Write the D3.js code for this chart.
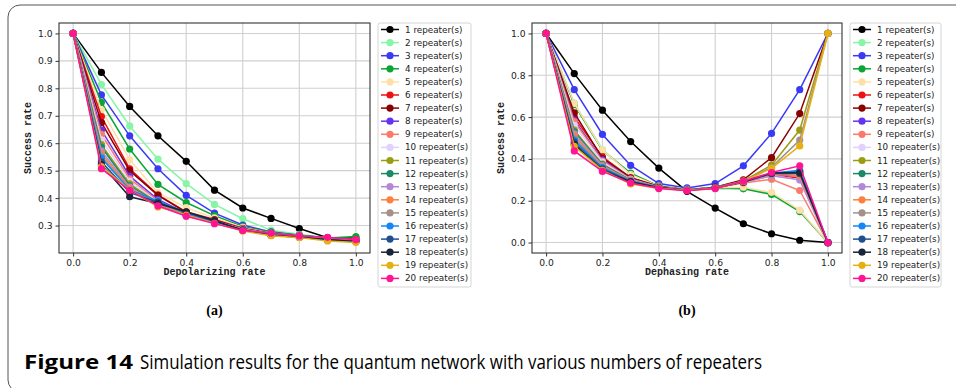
<!DOCTYPE html>
<html><head><meta charset="utf-8">
<script src="https://cdn.jsdelivr.net/npm/d3@7"></script>
<style>body{margin:0;background:#fff}svg{display:block}</style>
</head><body><svg id="c" width="956" height="388"></svg>
<script>
const rates = [0,0.1,0.2,0.3,0.4,0.5,0.6,0.7,0.8,0.9,1.0];
const seriesNames = d3.range(1,21).map(n => n + " repeater(s)");
const seriesColors = ["#000000","#86f5a6","#3a3af5","#0aa535","#ffdfa8","#ee1111","#8b0000","#6633ee","#fa7b6b","#e2d0ff",
  "#9c9c12","#1b8a6b","#b388d8","#ff7f40","#a3918a","#1487f5","#1f4f8f","#1a2438","#e6b012","#ff1493"];
const xTicks = [0,0.2,0.4,0.6,0.8,1.0];
const yTicksA = [0.3,0.4,0.5,0.6,0.7,0.8,0.9,1.0];
const yTicksB = [0,0.2,0.4,0.6,0.8,1.0];

const depolarizing = [
 [1,.858,.734,.627,.534,.429,.364,.326,.289,.256,.255],
 [1,.814,.663,.542,.453,.377,.325,.283,.268,.256,.250],
 [1,.776,.627,.507,.410,.345,.302,.277,.265,.255,.250],
 [1,.749,.579,.450,.384,.336,.297,.275,.265,.255,.260],
 [1,.722,.540,.420,.365,.328,.293,.272,.263,.252,.248],
 [1,.697,.507,.412,.350,.322,.290,.272,.262,.252,.250],
 [1,.675,.500,.410,.348,.320,.288,.270,.262,.250,.248],
 [1,.648,.480,.395,.345,.318,.288,.270,.260,.250,.247],
 [1,.632,.470,.390,.343,.316,.287,.270,.260,.250,.247],
 [1,.612,.462,.385,.342,.315,.286,.268,.260,.250,.246],
 [1,.595,.452,.383,.340,.314,.285,.268,.259,.249,.245],
 [1,.586,.445,.382,.340,.313,.285,.268,.259,.249,.245],
 [1,.572,.440,.380,.335,.312,.284,.267,.258,.249,.245],
 [1,.562,.436,.380,.338,.312,.284,.267,.258,.248,.244],
 [1,.553,.432,.378,.337,.311,.284,.266,.258,.248,.244],
 [1,.546,.430,.390,.345,.315,.284,.266,.258,.248,.243],
 [1,.532,.420,.385,.348,.316,.283,.265,.257,.248,.243],
 [1,.522,.405,.380,.350,.318,.283,.265,.257,.248,.242],
 [1,.515,.430,.368,.338,.308,.280,.263,.256,.244,.238],
 [1,.507,.428,.372,.334,.307,.282,.272,.262,.257,.248]
];
const dephasing = [
 [1,.808,.633,.483,.356,.245,.165,.090,.042,.011,0],
 [1,.667,.445,.330,.272,.255,.262,.262,.235,.152,0],
 [1,.731,.517,.369,.282,.261,.282,.367,.522,.731,1],
 [1,.660,.440,.332,.270,.255,.260,.257,.230,.148,0],
 [1,.665,.443,.325,.270,.255,.262,.265,.240,.155,0],
 [1,.600,.410,.310,.268,.253,.263,.288,.320,.310,0],
 [1,.620,.403,.310,.268,.253,.265,.300,.406,.617,1],
 [1,.585,.395,.305,.266,.252,.262,.290,.325,.320,0],
 [1,.578,.390,.303,.266,.252,.262,.285,.303,.249,0],
 [1,.560,.385,.300,.265,.252,.262,.288,.322,.300,0],
 [1,.538,.375,.298,.265,.252,.262,.295,.370,.538,1],
 [1,.530,.372,.298,.265,.251,.262,.290,.330,.340,0],
 [1,.520,.368,.296,.264,.251,.262,.288,.320,.300,0],
 [1,.510,.365,.295,.264,.251,.262,.290,.328,.320,0],
 [1,.500,.362,.294,.264,.251,.262,.293,.360,.490,1],
 [1,.490,.358,.293,.263,.251,.262,.292,.332,.345,0],
 [1,.480,.352,.292,.263,.250,.262,.290,.330,.330,0],
 [1,.470,.345,.290,.262,.250,.261,.290,.333,.335,0],
 [1,.460,.345,.280,.260,.250,.260,.292,.355,.462,1],
 [1,.438,.340,.285,.258,.248,.258,.293,.335,.367,0]
];

const svg = d3.select("#c");
svg.append("rect").attr("x",8).attr("y",5).attr("width",990).attr("height",387).attr("rx",12)
  .attr("fill","none").attr("stroke","#555").attr("stroke-width",1);

function panel(opt){
  const x = d3.scaleLinear().domain([-0.05,1.05]).range([opt.left, opt.right]);
  const y = d3.scaleLinear().domain(opt.ydom).range([253,23]);
  const g = svg.append("g");
  g.selectAll(".gx").data(xTicks).join("line").attr("x1",d=>x(d)).attr("x2",d=>x(d))
    .attr("y1",23).attr("y2",253).attr("stroke","#cfcfcf").attr("stroke-width",1.1);
  g.selectAll(".gy").data(opt.yticks).join("line").attr("y1",d=>y(d)).attr("y2",d=>y(d))
    .attr("x1",opt.left).attr("x2",opt.right).attr("stroke","#cfcfcf").attr("stroke-width",1.1);
  const ax = g.append("g").attr("transform","translate(0,253)")
    .call(d3.axisBottom(x).tickValues(xTicks).tickFormat(d3.format(".1f")).tickSize(3.5).tickPadding(3));
  const ay = g.append("g").attr("transform",`translate(${opt.left},0)`)
    .call(d3.axisLeft(y).tickValues(opt.yticks).tickFormat(d3.format(".1f")).tickSize(3.5).tickPadding(3));
  [ax,ay].forEach(a=>{
    a.select(".domain").remove();
    a.selectAll("text").attr("font-family","DejaVu Sans").attr("font-size",9.2).attr("fill","#222");
    a.selectAll("line").attr("stroke","#333");
  });
  const line = d3.line().x((d,i)=>x(rates[i])).y(d=>y(d));
  opt.data.forEach((s,k)=>{
    g.append("path").attr("d",line(s)).attr("fill","none").attr("stroke",seriesColors[k]).attr("stroke-width",1.5);
    g.selectAll(null).data(s).join("circle").attr("cx",(d,i)=>x(rates[i])).attr("cy",d=>y(d))
      .attr("r",3.6).attr("fill",seriesColors[k]);
  });
  g.append("rect").attr("x",opt.left).attr("y",23).attr("width",opt.right-opt.left).attr("height",230)
    .attr("fill","none").attr("stroke","#333").attr("stroke-width",1.1);
  g.append("text").attr("x",(x(0)+x(1))/2).attr("y",275).attr("text-anchor","middle")
    .attr("font-family","Liberation Mono").attr("font-weight","bold").attr("font-size",10).attr("fill","#222").text(opt.xlabel);
  g.append("text").attr("transform",`translate(${opt.left-28},${(y(opt.ydom[0])+y(opt.ydom[1]))/2}) rotate(-90)`)
    .attr("text-anchor","middle").attr("font-family","Liberation Mono").attr("font-weight","bold")
    .attr("font-size",10).attr("fill","#222").text("Success rate");
  const lg = svg.append("g");
  lg.append("rect").attr("x",opt.lx).attr("y",23).attr("width",opt.lw).attr("height",264).attr("rx",2)
    .attr("fill","#fff").attr("stroke","#d5d5d5");
  seriesNames.forEach((n,k)=>{
    const yy = 29.5 + k*13.1;
    lg.append("line").attr("x1",opt.lx+3).attr("x2",opt.lx+21).attr("y1",yy).attr("y2",yy)
      .attr("stroke",seriesColors[k]).attr("stroke-width",1.5);
    lg.append("circle").attr("cx",opt.lx+12).attr("cy",yy).attr("r",3.6).attr("fill",seriesColors[k]);
    lg.append("text").attr("x",opt.lx+27).attr("y",yy+3).attr("font-family","DejaVu Sans").attr("font-size",8.8)
      .attr("fill","#222").text(n);
  });
  svg.append("text").attr("x",(x(0)+x(1))/2).attr("y",315).attr("text-anchor","middle")
    .attr("font-family","Liberation Serif").attr("font-weight","bold").attr("font-size",14).text(opt.tag);
}
panel({left:59,right:370,ydom:[0.2,1.038],yticks:yTicksA,data:depolarizing,xlabel:"Depolarizing rate",lx:378,lw:93,tag:"(a)"});
panel({left:532,right:842,ydom:[-0.05,1.05],yticks:yTicksB,data:dephasing,xlabel:"Dephasing rate",lx:850,lw:91,tag:"(b)"});

svg.append("text").attr("x",24).attr("y",369).attr("font-family","Open Sans").attr("font-weight","bold")
  .attr("font-size",19.5).attr("textLength",109).attr("lengthAdjust","spacingAndGlyphs").text("Figure 14");
svg.append("text").attr("x",140).attr("y",369).attr("font-family","Open Sans")
  .attr("font-size",19.5).attr("textLength",622).attr("lengthAdjust","spacingAndGlyphs")
  .text("Simulation results for the quantum network with various numbers of repeaters");
</script></body></html>
